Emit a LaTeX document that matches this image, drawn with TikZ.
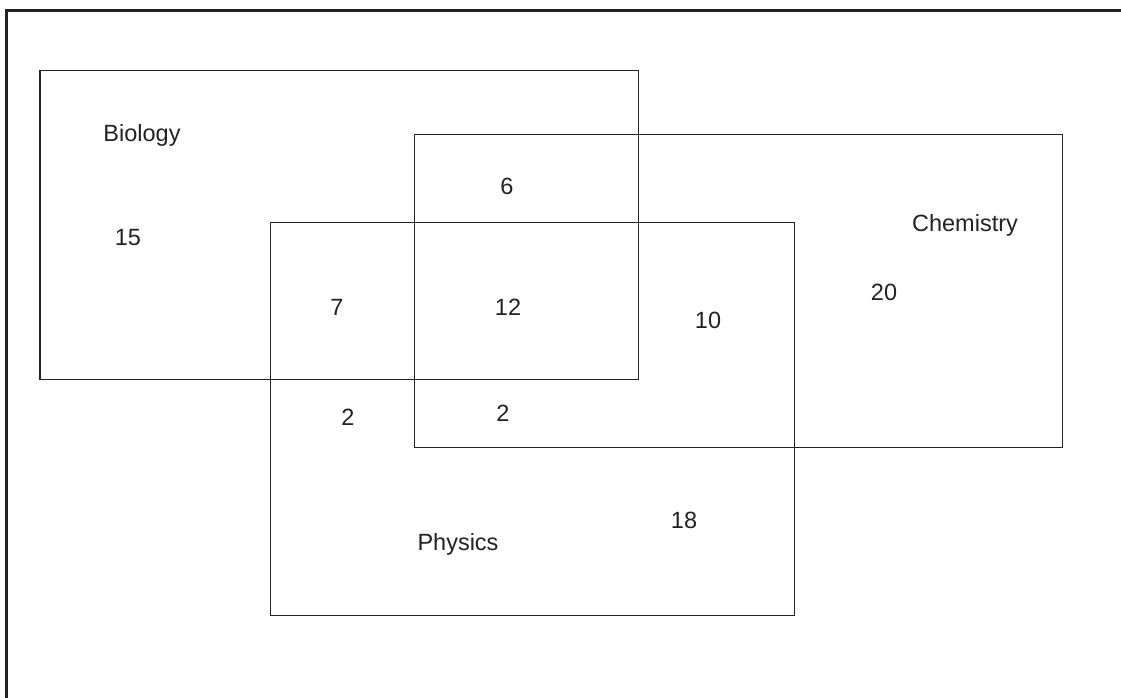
\documentclass[tikz,border=0pt]{standalone}
\usepackage{fontspec}
\setmainfont{Liberation Sans}
\definecolor{ink}{HTML}{222222}
\begin{document}
\begin{tikzpicture}[x=1pt,y=-1pt,
  setbox/.style={draw=ink,line width=1.8pt},
  lbl/.style={anchor=base,inner sep=0pt,text=ink,font=\fontsize{23.5}{28}\selectfont}]
\useasboundingbox (0,0) rectangle (1121,698);
\fill[white] (0,0) rectangle (1121,698);
% outer frame (cropped)
\draw[ink,line width=2.2pt] (6.5,698) -- (6.5,10.5) -- (1121,10.5);
% sets
\draw[setbox] (40,70.5) rectangle (638.5,379.5);
\draw[setbox] (414.5,134.5) rectangle (1062.5,447.5);
\draw[setbox] (270.5,222.5) rectangle (794.5,615.5);
% labels
\node[lbl] (bio) at (142,141) {Biology};
\node[lbl] (chem) at (965,231) {Chemistry};
\node[lbl] (phys) at (458,550) {Physics};
\node[lbl] (n15) at (128,245) {15};
\node[lbl] (n6) at (507,194) {6};
\node[lbl] (n7) at (337,315) {7};
\node[lbl] (n12) at (508,315) {12};
\node[lbl] (n10) at (708,328) {10};
\node[lbl] (n20) at (884,300) {20};
\node[lbl] (n2a) at (348,425) {2};
\node[lbl] (n2b) at (503,421) {2};
\node[lbl] (n18) at (684,528) {18};
\end{tikzpicture}
\end{document}
